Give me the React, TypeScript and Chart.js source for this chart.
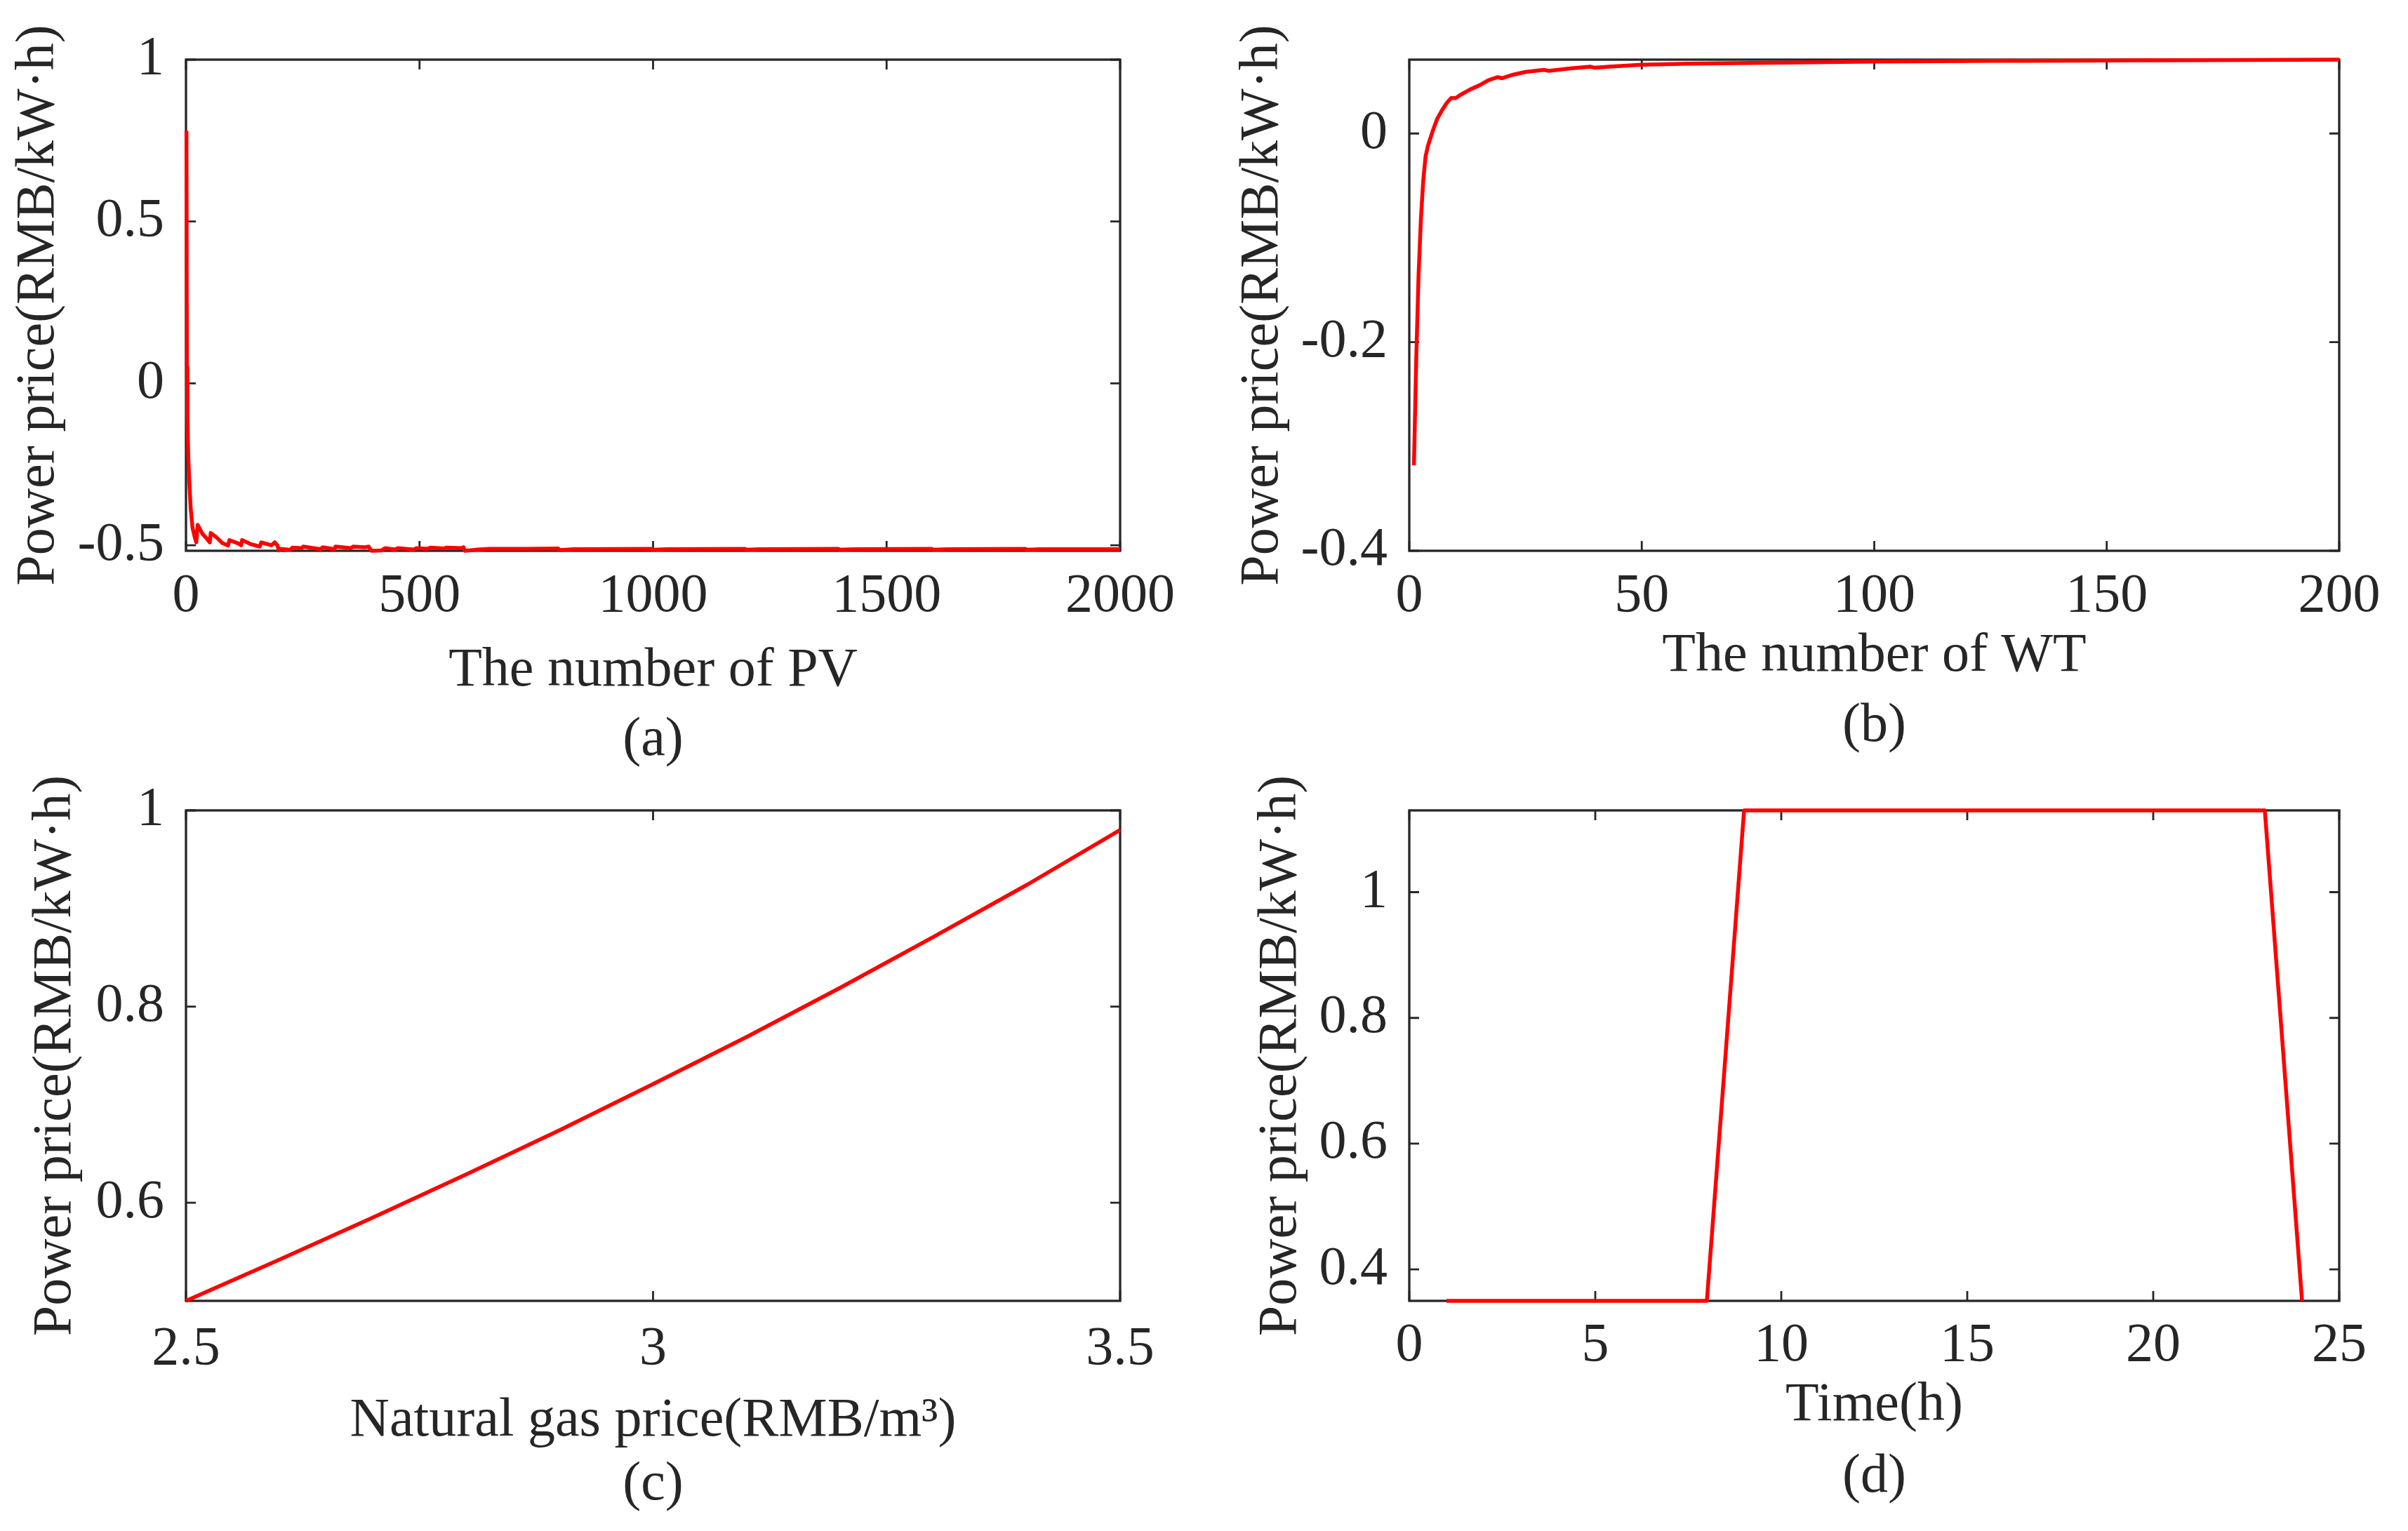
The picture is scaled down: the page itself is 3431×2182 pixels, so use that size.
import React, { useEffect, useRef } from 'react';
import { Chart, registerables } from 'chart.js';

Chart.register(...registerables);

const FONT_FAMILY = '"Liberation Serif", "Times New Roman", serif';
const INK = '#262626';
const LINE_RED = '#ff0000';
const Y_TITLE = 'Power price(RMB/kW·h)';
const FONT_SIZE = 78;

// ---------- (a) number of PV ----------
const pvCount = [1, 2, 3, 5, 7, 10, 14, 19, 22, 25, 35, 45, 51, 53, 65, 78, 90, 93, 113, 118, 120, 138, 158, 161, 183, 190, 196, 199, 203, 223, 228, 248, 251, 288, 293, 318, 320, 353, 358, 383, 391, 397, 418, 426, 448, 453, 488, 493, 518, 523, 553, 558, 589, 594, 597, 619, 649, 729, 797, 800, 830, 997, 1000, 1030, 1197, 1200, 1230, 1397, 1400, 1430, 1597, 1600, 1630, 1797, 1800, 1830, 2000];
const pvPrice = [0.78, 0.05, -0.10, -0.23, -0.30, -0.385, -0.446, -0.476, -0.491, -0.437, -0.464, -0.48, -0.491, -0.462, -0.475, -0.493, -0.501, -0.484, -0.495, -0.5, -0.484, -0.496, -0.504, -0.491, -0.5, -0.491, -0.501, -0.516, -0.511, -0.514, -0.507, -0.509, -0.504, -0.512, -0.506, -0.512, -0.504, -0.509, -0.504, -0.506, -0.504, -0.517, -0.516, -0.509, -0.513, -0.509, -0.513, -0.509, -0.511, -0.507, -0.51, -0.507, -0.509, -0.506, -0.517, -0.514, -0.511, -0.511, -0.510, -0.515, -0.512, -0.511, -0.514, -0.512, -0.511, -0.514, -0.512, -0.511, -0.514, -0.512, -0.511, -0.514, -0.512, -0.511, -0.514, -0.512, -0.512];
const pvXTicks = [0, 500, 1000, 1500, 2000];
const pvXLabels = ['0', '500', '1000', '1500', '2000'];
const pvYTicks = [-0.5, 0, 0.5, 1];
const pvYLabels = ['-0.5', '0', '0.5', '1'];

// ---------- (b) number of WT ----------
const wtCount = [1, 1.5, 2, 2.5, 3, 3.5, 4, 5, 6, 7, 8, 9, 10, 11, 13, 15, 17, 19, 20, 22, 25, 29, 30, 35, 39, 40, 43, 50, 60, 70, 80, 90, 100, 120, 130, 131, 150, 160, 161, 180, 200];
const wtPrice = [-0.318, -0.215, -0.135, -0.082, -0.045, -0.022, -0.012, 0.002, 0.014, 0.022, 0.029, 0.034, 0.034, 0.037, 0.042, 0.046, 0.051, 0.054, 0.053, 0.056, 0.059, 0.061, 0.060, 0.0625, 0.064, 0.063, 0.064, 0.066, 0.067, 0.0675, 0.068, 0.0685, 0.069, 0.0695, 0.0698, 0.0696, 0.0700, 0.0703, 0.0701, 0.0705, 0.0708];
const wtXTicks = [0, 50, 100, 150, 200];
const wtXLabels = ['0', '50', '100', '150', '200'];
const wtYTicks = [-0.4, -0.2, 0];
const wtYLabels = ['-0.4', '-0.2', '0'];

// ---------- (c) natural gas price ----------
const gasPrice = [2.5, 2.6, 2.7, 2.8, 2.9, 3.0, 3.1, 3.2, 3.3, 3.4, 3.5];
const gasPower = [0.5, 0.542, 0.585, 0.629, 0.674, 0.721, 0.769, 0.819, 0.871, 0.924, 0.98];
const gasXTicks = [2.5, 3, 3.5];
const gasXLabels = ['2.5', '3', '3.5'];
const gasYTicks = [0.6, 0.8, 1];
const gasYLabels = ['0.6', '0.8', '1'];

// ---------- (d) time of use ----------
const hours = [1, 2, 3, 4, 5, 6, 7, 8, 9, 10, 11, 12, 13, 14, 15, 16, 17, 18, 19, 20, 21, 22, 23, 24];
const touPrice = [0.35, 0.35, 0.35, 0.35, 0.35, 0.35, 0.35, 0.35, 1.13, 1.13, 1.13, 1.13, 1.13, 1.13, 1.13, 1.13, 1.13, 1.13, 1.13, 1.13, 1.13, 1.13, 1.13, 0.35];
const touXTicks = [0, 5, 10, 15, 20, 25];
const touXLabels = ['0', '5', '10', '15', '20', '25'];
const touYTicks = [0.4, 0.6, 0.8, 1];
const touYLabels = ['0.4', '0.6', '0.8', '1'];

type Panel = {
  key: string;
  xs: number[];
  ys: number[];
  xMin: number; xMax: number; yMin: number; yMax: number;
  xTicks: number[]; xLabels: string[];
  yTicks: number[]; yLabels: string[];
  xTitle: string; caption: string;
  box: { left: number; top: number; width: number; height: number };
  lay: { padTop: number; padRight: number; padBottom: number; yAxisW: number; yTitlePad: number; xTickPad: number; xAxisH: number; capPad: number };
};

const PANELS: Panel[] = [
  {
    key: 'a', xs: pvCount, ys: pvPrice, xMin: 0, xMax: 2000, yMin: -0.517, yMax: 1,
    xTicks: pvXTicks, xLabels: pvXLabels, yTicks: pvYTicks, yLabels: pvYLabels,
    xTitle: 'The number of PV', caption: '(a)',
    box: { left: 0, top: 0, width: 1715, height: 1120 },
    lay: { padTop: 85, padRight: 119, padBottom: 25, yAxisW: 265, yTitlePad: 9.2, xTickPad: 19.2, xAxisH: 218.8, capPad: 13.2 },
  },
  {
    key: 'b', xs: wtCount, ys: wtPrice, xMin: 0, xMax: 200, yMin: -0.4, yMax: 0.0708,
    xTicks: wtXTicks, xLabels: wtXLabels, yTicks: wtYTicks, yLabels: wtYLabels,
    xTitle: 'The number of WT', caption: '(b)',
    box: { left: 1715, top: 0, width: 1716, height: 1120 },
    lay: { padTop: 85, padRight: 98, padBottom: 45, yAxisW: 293, yTitlePad: 38.2, xTickPad: 19.2, xAxisH: 197.8, capPad: 14.2 },
  },
  {
    key: 'c', xs: gasPrice, ys: gasPower, xMin: 2.5, xMax: 3.5, yMin: 0.5, yMax: 1,
    xTicks: gasXTicks, xLabels: gasXLabels, yTicks: gasYTicks, yLabels: gasYLabels,
    xTitle: 'Natural gas price(RMB/m³)', caption: '(c)',
    box: { left: 0, top: 1100, width: 1715, height: 1082 },
    lay: { padTop: 55, padRight: 119, padBottom: 26, yAxisW: 265, yTitlePad: 32.8, xTickPad: 23.2, xAxisH: 218.3, capPad: 5.7 },
  },
  {
    key: 'd', xs: hours, ys: touPrice, xMin: 0, xMax: 25, yMin: 0.35, yMax: 1.13,
    xTicks: touXTicks, xLabels: touXLabels, yTicks: touYTicks, yLabels: touYLabels,
    xTitle: 'Time(h)', caption: '(d)',
    box: { left: 1715, top: 1100, width: 1716, height: 1082 },
    lay: { padTop: 55, padRight: 98, padBottom: 37, yAxisW: 293, yTitlePad: 64.2, xTickPad: 18.2, xAxisH: 196.8, capPad: 16.2 },
  },
];

const TICK_LEN = 14;

const framePlugin = {
  id: 'matlabFrame',
  beforeDatasetsDraw(chart: any) {
    const { ctx, chartArea } = chart;
    const { left, top, right, bottom } = chartArea;
    const xs = chart.scales.x;
    const ys = chart.scales.y;
    ctx.save();
    ctx.strokeStyle = INK;
    ctx.lineWidth = 2.8;
    ctx.beginPath();
    xs.ticks.forEach((t: any) => {
      const px = xs.getPixelForValue(t.value);
      ctx.moveTo(px, bottom);
      ctx.lineTo(px, bottom - TICK_LEN);
      ctx.moveTo(px, top);
      ctx.lineTo(px, top + TICK_LEN);
    });
    ys.ticks.forEach((t: any) => {
      const py = ys.getPixelForValue(t.value);
      ctx.moveTo(left, py);
      ctx.lineTo(left + TICK_LEN, py);
      ctx.moveTo(right, py);
      ctx.lineTo(right - TICK_LEN, py);
    });
    ctx.stroke();
    ctx.lineWidth = 3.3;
    ctx.strokeRect(left, top, right - left, bottom - top);
    ctx.restore();
  },
};

function buildConfig(p: Panel): any {
  const font = { family: FONT_FAMILY, size: FONT_SIZE, lineHeight: 1.2, weight: 'normal' };
  const yTickFont = { family: FONT_FAMILY, size: FONT_SIZE, lineHeight: 0.6, weight: 'normal' };
  const captionFont = { family: FONT_FAMILY, size: FONT_SIZE, lineHeight: 1.0, weight: 'normal' };
  return {
    type: 'line',
    data: {
      datasets: [
        {
          data: p.xs.map((x, i) => ({ x, y: p.ys[i] })),
          borderColor: LINE_RED,
          borderWidth: 5.5,
          pointRadius: 0,
          pointHoverRadius: 0,
          tension: 0,
          fill: false,
          clip: false,
          borderJoinStyle: 'round',
        },
      ],
    },
    options: {
      animation: false,
      responsive: false,
      devicePixelRatio: 1,
      events: [],
      layout: { padding: { left: 0, top: p.lay.padTop, right: p.lay.padRight, bottom: p.lay.padBottom } },
      plugins: {
        legend: { display: false },
        tooltip: { enabled: false },
        title: {
          display: true,
          text: p.caption,
          position: 'bottom',
          fullSize: false,
          color: INK,
          font: captionFont,
          padding: { top: p.lay.capPad, bottom: 0 },
        },
      },
      scales: {
        x: {
          type: 'linear',
          position: 'bottom',
          min: p.xMin,
          max: p.xMax,
          grid: { display: false, drawTicks: false },
          border: { display: false },
          ticks: {
            font, color: INK, padding: p.lay.xTickPad, autoSkip: false, maxRotation: 0, minRotation: 0,
            callback: (_v: any, i: number) => p.xLabels[i],
          },
          afterBuildTicks: (s: any) => { s.ticks = p.xTicks.map((value) => ({ value })); },
          title: { display: true, text: p.xTitle, font, color: INK, padding: { top: 0, bottom: 0 } },
          afterFit: (s: any) => { s.height = p.lay.xAxisH; },
        },
        y: {
          type: 'linear',
          position: 'left',
          min: p.yMin,
          max: p.yMax,
          grid: { display: false, drawTicks: false },
          border: { display: false },
          ticks: {
            font: yTickFont, color: INK, padding: 31, autoSkip: false,
            callback: (_v: any, i: number) => p.yLabels[i],
          },
          afterBuildTicks: (s: any) => { s.ticks = p.yTicks.map((value) => ({ value })); },
          title: { display: true, text: Y_TITLE, font, color: INK, padding: { top: p.lay.yTitlePad, bottom: 0 } },
          afterFit: (s: any) => { s.width = p.lay.yAxisW; },
        },
      },
    },
    plugins: [framePlugin],
  };
}

function PanelChart({ panel }: { panel: Panel }) {
  const ref = useRef<HTMLCanvasElement | null>(null);
  useEffect(() => {
    if (!ref.current) return;
    const chart = new Chart(ref.current, buildConfig(panel));
    return () => chart.destroy();
  }, [panel]);
  const b = panel.box;
  return (
    <canvas
      ref={ref}
      width={b.width}
      height={b.height}
      style={{ position: 'absolute', left: b.left, top: b.top, width: b.width, height: b.height, display: 'block' }}
    />
  );
}

export default function App() {
  return (
    <div style={{ position: 'absolute', left: 0, top: 0, width: 3431, height: 2182, background: '#ffffff', overflow: 'hidden' }}>
      {PANELS.map((p) => (
        <PanelChart key={p.key} panel={p} />
      ))}
    </div>
  );
}
